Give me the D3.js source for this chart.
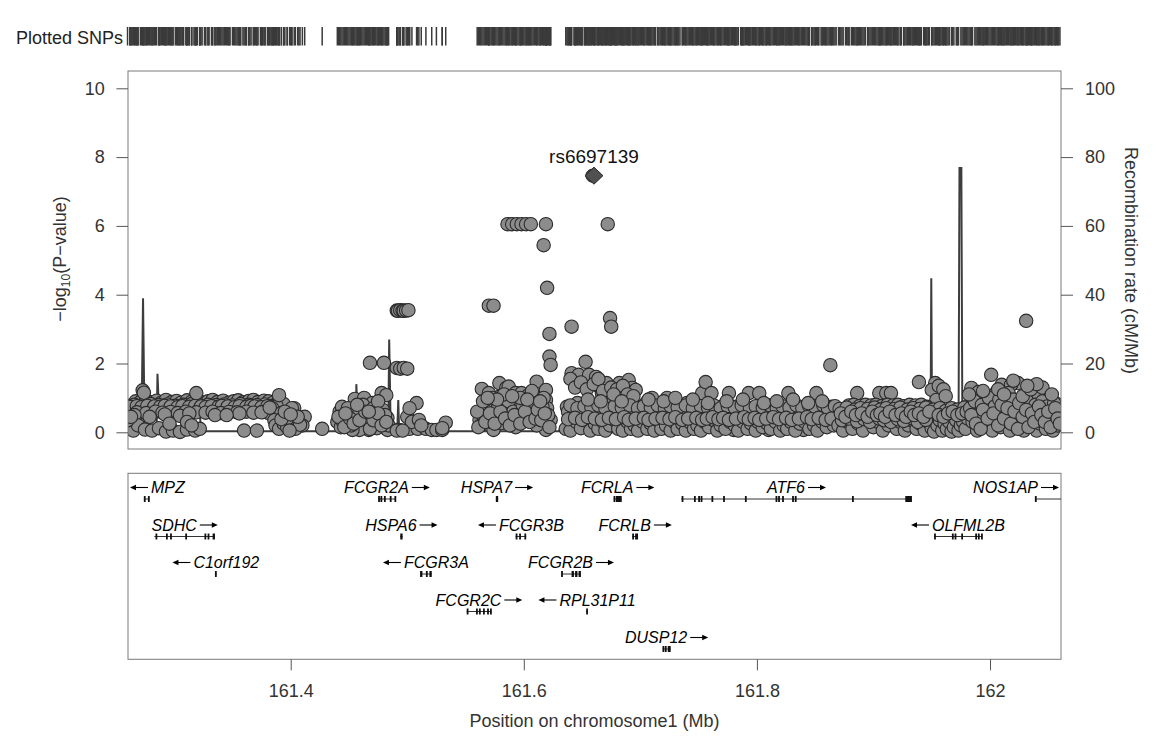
<!DOCTYPE html>
<html><head><meta charset="utf-8">
<script src="https://cdn.jsdelivr.net/npm/d3@7/dist/d3.min.js"></script>
<style>body{margin:0;background:#fff}svg text{font-family:"Liberation Sans",Arial,Helvetica,sans-serif}</style>
</head><body><svg id="c" width="1171" height="751"></svg>
<script>
// ---------- DATA (positions in kb on chromosome 1, values -log10 P) ----------
const snpsA=[[161263,.78],[161267,.90],[161271,.88],[161276,.93],[161281,.87],[161285,.92],[161289,.86],[161293,.94],[161298,.88],[161302,.91],[161306,.86],[161311,.93],[161315,.89],[161320,.92],[161324,.87],[161329,.90],[161333,.94],[161337,.88],[161342,.92],[161347,.86],[161351,.90],[161355,.93],[161359,.87],[161364,.91],[161368,.94],[161372,.88],[161377,.92],[161381,.90],[161385,.86],[161389,.88],[161394,.82],
[161264,.65],[161269,.70],[161274,.62],[161278,.72],[161282,.66],[161287,.70],[161291,.63],[161295,.72],[161299,.67],[161304,.71],[161308,.64],[161312,.70],[161317,.66],[161322,.72],[161326,.63],[161330,.69],[161335,.72],[161339,.66],[161344,.70],[161348,.64],[161353,.71],[161357,.67],[161361,.72],[161365,.65],[161370,.70],[161374,.66],[161378,.72],[161383,.62],[161387,.66],
[161266,.80],[161273,.78],[161280,.82],[161287,.79],[161294,.81],[161301,.77],[161308,.80],[161315,.82],[161322,.78],[161329,.80],[161336,.79],[161343,.81],[161350,.78],[161357,.82],[161364,.80],[161371,.79],[161378,.81],[161385,.77],
[161262,.74],[161268,.76],[161272,.73],[161277,.77],[161283,.75],[161288,.74],[161292,.77],[161297,.75],[161303,.73],[161307,.76],[161313,.74],[161318,.77],[161323,.75],[161327,.73],[161332,.76],[161338,.74],[161341,.77],[161346,.75],[161352,.73],[161356,.76],[161362,.74],[161366,.77],[161369,.75],[161375,.73],[161380,.76],[161384,.74],[161388,.76],
[161268,.58],[161276,.56],[161284,.60],[161290,.57],[161297,.59],[161303,.56],[161310,.60],[161319,.58],[161327,.57],[161333,.60],[161340,.56],[161347,.59],[161354,.58],[161362,.60],[161368,.57],[161376,.59],[161381,.56],
[161266,.50],[161279,.45],[161292,.52],[161305,.48],[161313,.55],[161356,.55],[161375,.58],[161390,.55],[161397,.48],
[161262,.10],[161265,.05],[161269,.20],[161275,.08],[161281,.05],[161287,.12],[161293,.02],[161299,.05],[161305,.01],[161311,.08],[161318,.05],[161322,.10],[161260,.35],[161263,.45],
[161273,1.22],[161274,1.15],[161319,1.14],[161390,1.08],[161335,.50],[161345,.50],[161360,.05],[161371,.05],[161311,.30],[161315,.20],[161296,.25],[161403,.70],[161412,.45],[161410,.20],[161384,.70],[161392,.56],[161401,.70],[161407,.20],[161386,.35],[161387,.20],[161390,.10],[161394,.25],[161397,.15],[161401,.30],[161404,.10],[161408,.22],[161399,.05],[161392,.38],[161406,.45],[161395,.60],[161400,.52],[161382,.72]];
const snpSingle=[[161427,.10]];
const snpsB=[[161442,.60],[161440,.30],[161444,.74],[161448,.45],[161450,.15],[161453,.56],[161455,.97],[161456,.65],[161457,.36],[161460,.15],[161463,1.00],[161461,.56],[161466,.30],[161468,2.02],[161470,.85],[161472,.56],[161473,.15],[161476,.42],[161478,1.14],[161482,1.08],[161480,2.02],[161483,.42],[161479,.65],[161474,.12],[161467,.07],[161459,.07],[161453,.07],[161443,.15],[161483,.07],
[161491,3.54],[161492,3.53],[161494,3.55],[161496,3.54],[161497,3.53],[161499,3.54],[161501,3.55],
[161491,1.87],[161494,1.85],[161497,1.87],[161500,1.85],
[161500,.45],[161508,.85],[161502,.70],[161493,.07],[161502,.10],[161509,.10],[161504,.30],[161510,.36],[161516,.10],[161521,.07],[161525,.07],[161530,.07],[161533,.28],[161512,.20],[161530,.12],
[161445,.30],[161449,.70],[161452,.20],[161458,.50],[161462,.80],[161465,.45],[161469,.25],[161471,.70],[161475,.90],[161477,.30],[161481,.50],[161484,.20],[161491,.05],[161496,.05],
[161441,.45],[161446,.15],[161451,.40],[161454,.25],[161459,.35],[161464,.60],[161468,.10],[161471,.35],[161475,.55],[161478,.20],[161482,.30],[161447,.55],[161457,.80],[161467,.60]];
const snpsC=[[161586,6.05],[161590,6.05],[161594,6.05],[161598,6.05],[161602,6.05],[161606,6.05],[161619,6.05],
[161617,5.44],[161620,4.20],[161570,3.68],[161574,3.68],[161622,2.86],[161622,2.20],[161623,1.96],
[161564,1.26],[161570,1.14],[161579,1.43],[161585,1.29],[161587,1.33],[161593,1.14],[161598,1.14],[161604,1.08],[161611,1.47],[161619,1.23],[161619,.94],[161620,.70],[161570,.80],[161562,.36],[161566,.65],[161574,.07],[161576,.56],[161585,.74],[161589,.45],[161596,.65],[161600,.36],[161604,.74],[161609,.50],[161613,.27],[161616,.74],[161619,.07],[161623,.36],[161593,.15],[161581,.27],[161602,.94],[161593,.85],[161579,1.03],[161568,.45],
[161560,.60],[161563,.20],[161572,.30],[161578,.75],[161582,.55],[161587,.90],[161591,.60],[161595,.30],[161599,.80],[161606,.55],[161608,.90],[161611,.20],[161614,.60],[161617,1.00],[161621,.50],[161565,.90],[161573,1.00],[161583,1.10],[161597,1.00],[161607,1.20],
[161561,.15],[161567,.30],[161571,.55],[161575,.25],[161580,.60],[161584,.40],[161588,.20],[161592,.50],[161597,.25],[161601,.60],[161605,.30],[161610,.40],[161612,.65],[161615,.35],[161618,.55],[161622,.15],[161577,.95],[161590,1.05],[161603,.95],[161614,.90],[161569,1.00]];
const snpsD=[[161637,.74],[161639,.45],[161641,1.72],[161641,3.07],[161646,.85],[161643,.27],[161647,1.67],[161650,.56],[161653,2.05],[161656,1.67],[161656,.15],[161659,.74],[161662,1.61],[161665,1.32],[161667,1.14],[161671,1.43],[161671,.56],[161672,6.05],[161674,3.32],[161675,3.07],[161673,.15],[161676,.85],[161679,1.03],[161682,1.43],[161683,.65],[161686,1.14],[161688,.27],[161690,1.52],[161693,1.29],[161696,1.23],[161697,.74],[161699,.45],[161701,.15],[161705,.85],[161710,1.00],[161713,.56],[161716,.15],[161719,.74],[161723,1.00],[161725,.36],[161727,.65],[161731,.15],[161733,.74],[161737,.45],[161740,.85],[161744,.56],[161748,.27],[161750,.74],[161753,1.14],[161756,1.46],[161757,.45],[161761,1.14],[161765,.65],[161767,.27],[161770,.74],[161776,1.14],[161778,.56],[161780,.07],[161782,.74],[161786,.45],[161791,.74],[161793,1.14],[161796,.45],[161802,1.14],[161803,.74],[161808,.36],[161810,.07],[161813,.74],[161819,.56],[161825,.74],[161827,1.14],[161830,.45],[161836,.74],[161840,.07],[161842,.74],[161847,.56],[161851,1.14],[161853,.74],[161859,.45],[161863,1.95],[161864,.74],[161868,.27],
[161640,1.55],[161644,1.30],[161649,1.45],[161654,1.25],[161660,1.40],[161664,1.55],[161668,1.20],[161675,1.30],[161680,1.25],[161685,1.35],[161689,1.10],[161694,1.05],
[161636,.10],[161640,.05],[161645,.30],[161649,.12],[161653,.35],[161657,.05],[161661,.25],[161664,.10],[161668,.30],[161670,.05],[161674,.20],[161678,.35],[161681,.10],[161685,.05],[161689,.30],[161692,.10],[161695,.20],[161698,.05],[161702,.30],[161706,.10],[161709,.25],[161712,.05],[161715,.35],[161718,.10],[161722,.20],[161726,.05],[161729,.30],[161732,.10],[161736,.25],[161739,.05],[161742,.30],[161746,.10],[161749,.20],[161752,.05],[161755,.30],[161759,.15],[161763,.35],[161766,.05],[161769,.20],[161773,.10],[161777,.30],[161781,.20],[161784,.05],[161788,.30],[161792,.10],[161795,.25],[161799,.05],[161801,.30],[161805,.15],[161809,.25],[161812,.10],[161816,.30],[161820,.05],[161823,.20],[161826,.10],[161829,.30],[161833,.05],[161837,.25],[161841,.30],[161845,.10],[161849,.20],[161852,.05],[161856,.30],[161860,.15],[161866,.20],
[161638,.60],[161644,.50],[161648,.65],[161652,.45],[161658,.55],[161663,.60],[161669,.40],[161675,.55],[161680,.50],[161687,.60],[161691,.45],[161694,.55],[161700,.60],[161704,.50],[161708,.45],[161711,.60],[161717,.50],[161721,.45],[161724,.60],[161728,.50],[161734,.55],[161738,.60],[161743,.50],[161747,.55],[161751,.45],[161754,.60],[161760,.50],[161764,.55],[161768,.45],[161772,.60],[161775,.50],[161779,.45],[161783,.55],[161787,.60],[161790,.50],[161794,.55],[161797,.60],[161800,.50],[161804,.55],[161807,.60],[161811,.50],[161815,.60],[161818,.45],[161821,.55],[161824,.50],[161828,.60],[161832,.55],[161835,.50],[161838,.60],[161844,.50],[161848,.60],[161850,.50],[161855,.55],[161858,.60],[161862,.50],[161865,.55],
[161640,.78],[161646,.70],[161652,.76],[161658,.72],[161664,.78],[161670,.70],[161678,.76],[161684,.72],[161691,.78],[161698,.70],[161703,.76],[161709,.72],[161715,.78],[161721,.70],[161726,.76],[161732,.72],[161739,.78],[161745,.70],[161752,.76],[161758,.72],[161763,.78],[161769,.70],[161775,.76],[161781,.72],[161787,.78],[161794,.70],[161799,.76],[161805,.72],[161811,.78],[161817,.70],[161822,.76],[161828,.72],[161834,.78],[161839,.70],[161845,.76],[161850,.72],[161857,.78],[161861,.70],[161867,.76],
[161638,.38],[161644,.42],[161650,.36],[161655,.44],[161661,.40],[161667,.36],[161673,.42],[161679,.38],[161686,.44],[161690,.36],[161696,.40],[161703,.42],[161707,.36],[161713,.40],[161719,.42],[161725,.38],[161730,.44],[161736,.36],[161741,.40],[161748,.42],[161753,.36],[161757,.40],[161762,.44],[161767,.38],[161771,.42],[161776,.36],[161782,.40],[161789,.44],[161793,.38],[161798,.42],[161802,.36],[161808,.40],[161814,.44],[161819,.38],[161825,.42],[161830,.36],[161836,.40],[161843,.44],[161847,.38],[161853,.42],[161859,.36],[161864,.40],
[161655,.95],[161666,.90],[161677,1.10],[161684,.90],[161707,.95],[161720,.90],[161730,1.00],[161745,.95],[161758,.85],[161774,.90],[161788,.95],[161806,.85],[161817,.90],[161831,.95],[161844,.85],[161856,.90]];
const snpsE=[[161886,1.14],[161905,1.14],[161911,1.14],[161915,1.14],[161939,1.46],[161953,1.43],[161958,1.17],[161950,1.23],[161954,.94],[162001,1.67],[161984,1.29],[161990,1.17],[162024,1.43],[162031,3.24],[162010,1.38],[162018,1.38],[162036,1.14],[162042,1.03],[162050,.94],[162056,.85],[162016,1.14],[162005,1.14],[161996,.94],[161956,1.35],[161960,1.25],[161962,1.05],
[161879,.78],[161883,.80],[161888,.76],[161893,.80],[161898,.78],[161902,.80],[161907,.76],[161912,.80],[161917,.78],[161921,.80],[161926,.76],[161931,.80],[161936,.78],[161941,.80],[161946,.74],
[161871,.68],[161877,.72],[161884,.66],[161889,.70],[161895,.68],[161901,.72],[161906,.66],[161911,.70],[161918,.68],[161923,.72],[161929,.66],[161934,.70],[161940,.68],[161945,.72],[161951,.66],[161957,.70],[161962,.62],[161967,.70],[161972,.66],[161978,.72],
[161870,.20],[161874,.05],[161878,.30],[161882,.10],[161887,.25],[161891,.05],[161896,.35],[161900,.15],[161904,.30],[161908,.05],[161913,.20],[161916,.40],[161920,.10],[161923,.30],[161927,.05],[161930,.20],[161933,.35],[161937,.10],[161940,.25],[161944,.05],[161947,.30],[161950,.12],[161952,.02],[161955,.20],[161957,.35],[161959,.05],[161961,.25],[161963,.10],[161965,.30],[161967,.02],[161969,.15],[161971,.35],[161973,.05],[161975,.20],[161977,.30],[161979,.10],[161981,.40],
[161873,.35],[161879,.40],[161886,.32],[161892,.38],[161897,.30],[161905,.40],[161909,.35],[161915,.30],[161921,.38],[161926,.33],[161934,.40],[161938,.30],[161945,.36],
[161872,.55],[161876,.45],[161881,.60],[161885,.50],[161890,.55],[161895,.45],[161899,.60],[161903,.50],[161906,.55],[161910,.45],[161914,.60],[161919,.50],[161924,.55],[161928,.45],[161932,.60],[161935,.50],[161939,.55],[161943,.45],[161948,.60],[161956,.50],[161960,.45],[161964,.55],[161968,.60],[161972,.50],[161976,.55],[161980,.60],
[161983,.70],[161985,.30],[161987,.90],[161989,.05],[161991,.55],[161993,.80],[161995,.20],[161997,.65],[161999,1.00],[162000,.35],[162002,.05],[162004,.75],[162006,.45],[162008,.95],[162009,.15],[162011,.60],[162013,.85],[162014,.30],[162017,.05],[162019,.70],[162020,.95],[162022,.40],[162023,.15],[162026,.80],[162027,.55],[162029,.05],[162030,.30],[162032,.90],[162034,.65],[162035,.20],[162037,.45],[162039,.80],[162040,.05],[162041,.60],[162043,.25],[162045,.90],[162046,.50],[162048,.10],[162049,.75],[162051,.35],[162053,.60],[162054,.05],[162055,.85],[162057,.45],[162058,.20],[162059,.65],
[161984,.50],[161988,.25],[161992,.10],[161994,.65],[161998,.40],[162003,.55],[162007,.20],[162010,.80],[162012,.40],[162015,.70],[162018,.25],[162021,.60],[162024,.10],[162025,.85],[162028,.45],[162031,.65],[162033,.15],[162036,.55],[162038,.30],[162042,.75],[162044,.50],[162047,.30],[162050,.60],[162052,.15],[162056,.70],[162058,.40],[162060,.25],[161982,1.10],[161994,1.20],[162007,1.25],[162012,1.10],[162028,1.05],[162035,1.25],[162045,1.30],[162053,1.10],[162040,1.40],[162020,1.50],[162032,1.35]];
const leadSnpName="rs6697139", leadSnpPos=161660.2, leadSnpLogP=7.46;
// recombination rate (cM/Mb)
const recomb=[[161260,2],[161272,2],[161273.3,39],[161274.6,2],[161285,2],[161285.7,17],[161287,6],[161322,6],[161323,0.3],[161456,0.3],[161456.3,14],[161458,0.5],[161483.7,0.5],[161484.5,27],[161485.8,0.5],[161491.4,0.5],[161492.3,9.4],[161493,0.5],[161509.4,0.5],[161510.2,5.6],[161511,0.3],[161630,0.3],[161632.8,2],[161730,2],[161735,0.5],[161949,0.5],[161949.6,44.8],[161950.3,0.5],[161973,0.5],[161973.8,76.8],[161975.4,76.8],[161976.2,9],[162000,9],[162010,6],[162061,6]];
// genes: name, start, end, strand, track row, exons
const genes=[
["MPZ",161274,161279,"-",0,[[161274,161275.5],[161277.5,161279]]],
["SDHC",161283,161335,"+",1,[[161284,161284.6],[161293,161293.6],[161296.5,161297.1],[161309.5,161310.1],[161326,161326.6],[161328.7,161329.3],[161333,161335]]],
["C1orf192",161335,161336.5,"-",2,[[161335,161336.5]]],
["FCGR2A",161475,161490,"+",0,[[161475,161476],[161477,161477.8],[161480,161480.8],[161485,161486],[161489,161490]]],
["HSPA6",161494,161496,"+",1,[[161494,161496]]],
["FCGR3A",161511,161521,"-",2,[[161511,161513],[161516,161517],[161519,161521]]],
["FCGR2C",161551,161572,"+",3,[[161551,161551.6],[161559,161560],[161561.5,161562.5],[161565,161565.8],[161568.5,161569.2],[161571,161572]]],
["HSPA7",161576,161578,"+",0,[[161576,161578]]],
["FCGR3B",161593,161602,"-",1,[[161593,161594.5],[161596,161597],[161600.5,161602]]],
["FCGR2B",161632,161649,"+",2,[[161632,161632.6],[161641,161643],[161644,161646],[161647,161649]]],
["RPL31P11",161653.5,161655,"-",3,[[161653.5,161655]]],
["FCRLA",161677,161684,"+",0,[[161677,161678],[161679,161684]]],
["FCRLB",161693,161698,"+",1,[[161693,161694],[161695.5,161698]]],
["DUSP12",161719,161726,"+",4,[[161719,161720],[161721,161722],[161723.5,161726]]],
["ATF6",161735,161933,"+",0,[[161735.4,161736],[161746,161746.6],[161749.6,161750.2],[161751.7,161752.3],[161761,161761.6],[161771,161771.6],[161789.7,161790.3],[161816,161816.6],[161818.2,161818.8],[161821.6,161822.2],[161830.2,161830.8],[161832.5,161833.1],[161881.6,161882.2],[161927.3,161933]]],
["OLFML2B",161952,161993,"-",1,[[161952,161953.5],[161967.3,161968],[161969.6,161970.3],[161975.3,161976],[161987.3,161988],[161989.6,161990.3],[161992.3,161993]]],
["NOS1AP",162038.5,162340,"+",0,[[162038.5,162039.5]]]];
const pTicks=[0,2,4,6,8,10], rTicks=[0,20,40,60,80,100], xTicks=[161400,161600,161800,162000];

// ---------- DRAW ----------
const svg=d3.select("#c");
const L=128,R=1061;
const x=d3.scaleLinear().domain([161260.4,162060.9]).range([L,R]);
const yP=d3.scaleLinear().domain([0,10]).range([432.3,88.3]);
const yR=d3.scaleLinear().domain([0,100]).range([432.3,88.3]);
const allSnps=[].concat(snpsA,snpSingle,snpsB,snpsC,snpsD,snpsE);
const txt="#333";

// plotted SNPs strip
svg.append("text").attr("x",123).attr("y",43.5).attr("text-anchor","end").attr("font-size",18).attr("fill","#222").text("Plotted SNPs");
svg.append("g").selectAll("line").data(allSnps.concat([[leadSnpPos,leadSnpLogP]])).join("line")
  .attr("x1",d=>x(d[0])).attr("x2",d=>x(d[0])).attr("y1",27).attr("y2",45.5)
  .attr("stroke","#3a3a3a").attr("stroke-width",1.5);

// main panel
const defs=svg.append("defs");
defs.append("clipPath").attr("id","cm").append("rect").attr("x",L).attr("y",71).attr("width",R-L).attr("height",378);
defs.append("clipPath").attr("id","cg").append("rect").attr("x",L).attr("y",473.3).attr("width",R-L).attr("height",186);
const main=svg.append("g").attr("clip-path","url(#cm)");
main.append("path").datum(recomb).attr("fill","none").attr("stroke","#3d3d3d").attr("stroke-width",2)
  .attr("d",d3.line().x(d=>x(d[0])).y(d=>yR(d[1])));
main.append("g").selectAll("circle").data(allSnps).join("circle")
  .attr("cx",d=>x(d[0])).attr("cy",d=>yP(d[1])).attr("r",6.7)
  .attr("fill","#8c8c8c").attr("stroke","#2a2a2a").attr("stroke-width",1.1);
const lx=x(leadSnpPos), ly=yP(leadSnpLogP);
main.append("circle").attr("cx",lx-1.5).attr("cy",ly).attr("r",6.6).attr("fill","#505050").attr("stroke","#2a2a2a");
main.append("path").attr("d",`M${lx+9},${ly}L${lx},${ly-8.5}L${lx-9},${ly}L${lx},${ly+8.5}Z`)
  .attr("fill","#505050").attr("stroke","#2a2a2a").attr("stroke-width",1);
svg.append("text").attr("x",lx).attr("y",163).attr("text-anchor","middle").attr("font-size",19).attr("fill","#111").text(leadSnpName);
svg.append("rect").attr("x",L).attr("y",71).attr("width",R-L).attr("height",378).attr("fill","none").attr("stroke","#7a7a7a");

function styleAxis(g){g.select(".domain").remove();g.selectAll(".tick line").attr("stroke","#555");g.selectAll("text").attr("font-size",18).attr("fill",txt).attr("font-family","Liberation Sans, Arial, sans-serif");}
svg.append("g").attr("transform",`translate(${L},0)`).call(d3.axisLeft(yP).tickValues(pTicks).tickSize(11.6).tickPadding(11.7)).call(styleAxis);
svg.append("g").attr("transform",`translate(${R},0)`).call(d3.axisRight(yR).tickValues(rTicks).tickSize(12).tickPadding(12)).call(styleAxis);

const lt=svg.append("text").attr("transform","translate(65.5,259) rotate(-90)").attr("text-anchor","middle").attr("font-size",18).attr("fill",txt);
lt.append("tspan").text("\u2212log");
lt.append("tspan").attr("font-size",12).attr("dy",4).text("10");
lt.append("tspan").attr("dy",-4).text("(P\u2212value)");
svg.append("text").attr("transform","translate(1124.5,260.5) rotate(90)").attr("text-anchor","middle").attr("font-size",18).attr("fill",txt).text("Recombination rate (cM/Mb)");

// gene panel
svg.append("rect").attr("x",L).attr("y",473.3).attr("width",R-L).attr("height",186).attr("fill","none").attr("stroke","#7a7a7a");
const gp=svg.append("g");
const gclip=gp.append("g").attr("clip-path","url(#cg)");
genes.forEach(([name,s,e,strand,row,exons])=>{
  const gy=499+37.5*row;
  gclip.append("line").attr("x1",x(s)).attr("x2",x(e)).attr("y1",gy).attr("y2",gy).attr("stroke","#333").attr("stroke-width",1);
  exons.forEach(([a,b])=>{
    const xa=x(a), w=Math.max(1.8,x(b)-xa);
    gclip.append("rect").attr("x",xa).attr("y",gy-3).attr("width",w).attr("height",6).attr("fill","#111");
  });
  const t=gp.append("text").attr("font-size",16).attr("font-style","italic").attr("fill","#000").text(name);
  const tw=t.node().getComputedTextLength();
  const aw=18, gap=3, total=tw+gap+aw;
  const vs=Math.max(L,x(s)), ve=Math.min(R,x(e));
  let left=(vs+ve)/2-total/2;
  left=Math.max(L+2,Math.min(R-2-total,left));
  const by=gy-6, ay=by-5.5;
  let a0,a1;
  if(strand==="+"){t.attr("x",left).attr("y",by);a0=left+tw+gap;a1=a0+aw;}
  else{t.attr("x",left+aw+gap).attr("y",by);a0=left+aw;a1=left;}
  const dir=a1>a0?1:-1;
  gp.append("line").attr("x1",a0).attr("x2",a1-dir*4).attr("y1",ay).attr("y2",ay).attr("stroke","#000").attr("stroke-width",1.1);
  gp.append("path").attr("d",`M${a1},${ay}L${a1-dir*6},${ay-2.8}L${a1-dir*6},${ay+2.8}Z`).attr("fill","#000");
});

svg.append("g").attr("transform","translate(0,659.3)")
  .call(d3.axisBottom(x).tickValues(xTicks).tickFormat(d=>String(+(d/1000).toFixed(1))).tickSize(11).tickPadding(14.3))
  .call(styleAxis);
svg.append("text").attr("x",(L+R)/2).attr("y",726.5).attr("text-anchor","middle").attr("font-size",18).attr("fill",txt).text("Position on chromosome1 (Mb)");
</script></body></html>
